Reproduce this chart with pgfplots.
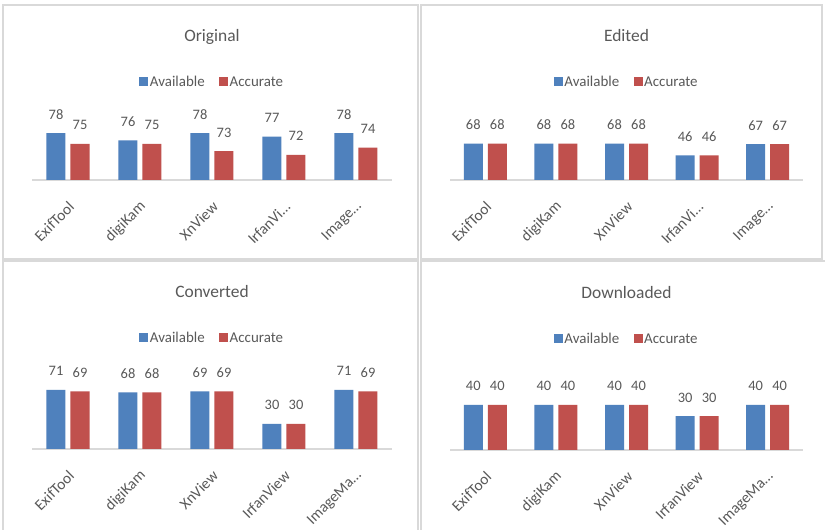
\documentclass[border=0pt]{standalone}
\usepackage{pgfplots}
\pgfplotsset{compat=1.18}
\usepackage{fontspec}
\setmainfont{Carlito}
\definecolor{txtgray}{HTML}{595959}
\definecolor{axgray}{HTML}{D9D9D9}
\definecolor{bdgray}{HTML}{D9D9D9}
\definecolor{xlblue}{HTML}{4F81BD}
\definecolor{xlred}{HTML}{C0504D}
\pgfplotsset{
  every axis title shift=0pt,
  panel/.style={
    scale only axis, height=75bp,
    ybar=5bp, bar width=19bp,
    xmin=-0.5, xmax=4.5, xtick={0,1,2,3,4},
    ytick=\empty,
    axis x line*=bottom, axis y line=none,
    x axis line style={-, draw=axgray, line width=1.5bp},
    xtick style={draw=none},
    /pgf/number format/assume math mode=true,
    xticklabel style={xshift=3.5bp, yshift=-20bp, rotate=45, anchor=east, inner sep=0pt,
      font=\fontsize{15.5}{17}\selectfont, text=txtgray},
    nodes near coords,
    nodes near coords style={font=\fontsize{14.5}{16}\selectfont, text=txtgray, anchor=base, inner sep=0pt, yshift=14bp},
    title style={at={(0.5,1)}, anchor=base, font=\fontsize{17.5}{20}\selectfont, text=txtgray},
    legend style={at={(0.5,1)}, anchor=center, draw=none, fill=none, legend columns=2,
      font=\fontsize{15}{17}\selectfont, text=txtgray,
      /tikz/every even column/.append style={column sep=13bp},
      nodes={inner sep=1.5bp}},
    legend image code/.code={\fill[##1,draw=none] (0bp,-4.5bp) rectangle (9bp,4.5bp);},
  },
  blueb/.style={fill=xlblue, draw=none},
  redb/.style={fill=xlred, draw=none},
}
\begin{document}
\begin{tikzpicture}
\useasboundingbox (0bp,0bp) rectangle (825bp,530bp);
\fill[white] (0bp,0bp) rectangle (825bp,530bp);
\draw[bdgray, line width=1.5bp] (3bp,525bp) rectangle (418bp,271bp);
\draw[bdgray, line width=1.5bp] (421bp,525bp) rectangle (822bp,271bp);
\draw[bdgray, line width=1.5bp] (3bp,-10bp) rectangle (418bp,269bp);
\draw[bdgray, line width=1.5bp] (421bp,-10bp) rectangle (840bp,269bp);

% Original
\begin{axis}[panel, at={(32bp,350bp)}, anchor=south west, width=360bp,
  ymin=65, ymax=85.8,
  xticklabels={ExifTool,digiKam,XnView,IrfanVi…,Image…},
  title={Original}, title style={yshift=63bp},
  legend style={yshift=23bp}]
\addplot[blueb] coordinates {(0,78) (1,76) (2,78) (3,77) (4,78)};
\addplot[redb] coordinates {(0,75) (1,75) (2,73) (3,72) (4,74)};
\legend{Available,Accurate}
\end{axis}

% Edited
\begin{axis}[panel, at={(450bp,350bp)}, anchor=south west, width=353bp,
  ymin=0, ymax=140,
  xticklabels={ExifTool,digiKam,XnView,IrfanVi…,Image…},
  title={Edited}, title style={yshift=63bp},
  legend style={yshift=23bp}]
\addplot[blueb] coordinates {(0,68) (1,68) (2,68) (3,46) (4,67)};
\addplot[redb] coordinates {(0,68) (1,68) (2,68) (3,46) (4,67)};
\legend{Available,Accurate}
\end{axis}

% Converted
\begin{axis}[panel, at={(32bp,81bp)}, anchor=south west, width=360bp,
  ymin=0, ymax=90,
  xticklabels={ExifTool,digiKam,XnView,IrfanView,ImageMa…},
  title={Converted}, title style={yshift=76bp},
  legend style={yshift=36bp}]
\addplot[blueb] coordinates {(0,71) (1,68) (2,69) (3,30) (4,71)};
\addplot[redb] coordinates {(0,69) (1,68) (2,69) (3,30) (4,69)};
\legend{Available,Accurate}
\end{axis}

% Downloaded
\begin{axis}[panel, at={(450bp,80bp)}, anchor=south west, width=353bp,
  ymin=0, ymax=66.6,
  xticklabels={ExifTool,digiKam,XnView,IrfanView,ImageMa…},
  title={Downloaded}, title style={yshift=76bp},
  legend style={yshift=36bp}]
\addplot[blueb] coordinates {(0,40) (1,40) (2,40) (3,30) (4,40)};
\addplot[redb] coordinates {(0,40) (1,40) (2,40) (3,30) (4,40)};
\legend{Available,Accurate}
\end{axis}
\end{tikzpicture}
\end{document}
